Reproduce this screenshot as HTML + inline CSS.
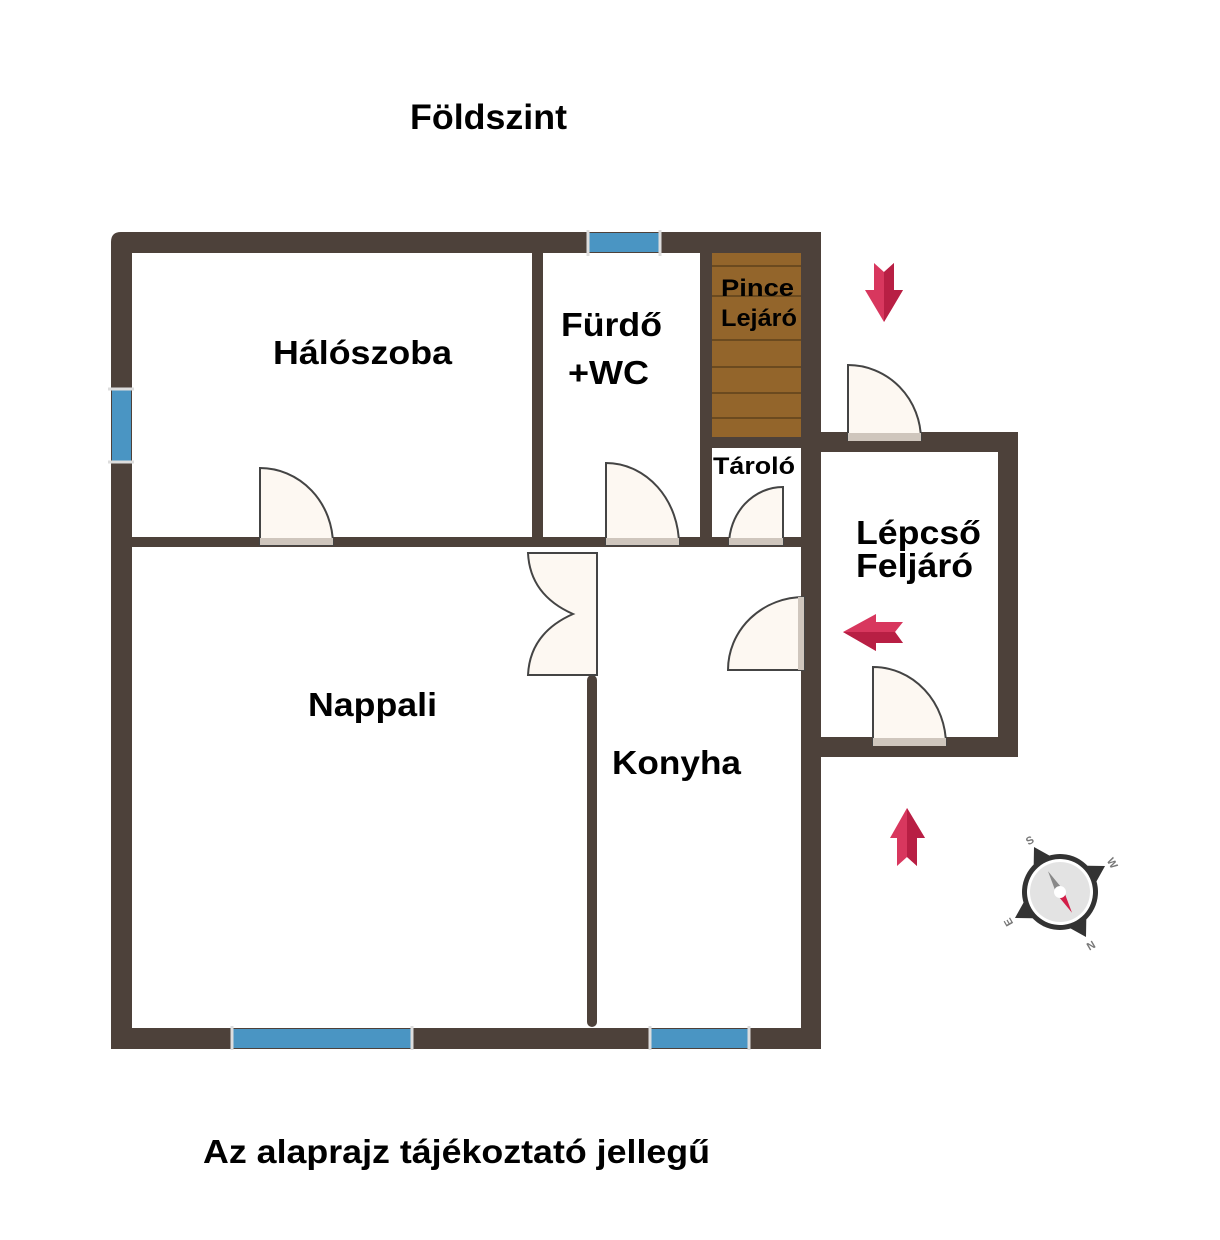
<!DOCTYPE html>
<html><head><meta charset="utf-8"><style>
html,body{margin:0;padding:0;background:#fff;}
svg{display:block;}
text{font-family:"Liberation Sans",Arial,sans-serif;font-weight:bold;fill:#000;}
</style></head><body>
<svg width="1220" height="1240" viewBox="0 0 1220 1240" xmlns="http://www.w3.org/2000/svg">
<text x="410" y="129" font-size="35" textLength="157" lengthAdjust="spacingAndGlyphs">Földszint</text>

<rect x="712" y="252" width="89" height="186" fill="#93652b"/>
<g stroke="#6b4a1f" stroke-width="2">
<line x1="712" y1="266" x2="801" y2="266"/>
<line x1="712" y1="296" x2="801" y2="296"/>
<line x1="712" y1="340" x2="801" y2="340"/>
<line x1="712" y1="367" x2="801" y2="367"/>
<line x1="712" y1="393" x2="801" y2="393"/>
<line x1="712" y1="418" x2="801" y2="418"/>
</g>

<g fill="#4d413a">
<path d="M111 242 Q111 232 121 232 L821 232 L821 1049 L111 1049 Z M132 253 L132 1028 L801 1028 L801 253 Z" fill-rule="evenodd"/>
<rect x="532" y="253" width="11" height="294"/>
<rect x="700" y="253" width="12" height="294"/>
<rect x="132" y="537" width="669" height="10"/>
<rect x="712" y="437" width="89" height="11"/>
<rect x="587" y="675" width="10" height="352" rx="5"/>
<path d="M821 432 L1018 432 L1018 757 L821 757 L821 737 L998 737 L998 452 L821 452 Z"/>
</g>

<g fill="#4a95c3">
<rect x="588" y="233" width="72" height="19"/>
<rect x="112" y="389" width="19" height="73"/>
<rect x="232" y="1029" width="180" height="19"/>
<rect x="650" y="1029" width="99" height="19"/>
</g>
<g stroke="#ddd" stroke-width="3">
<line x1="588" y1="230" x2="588" y2="256"/><line x1="660" y1="230" x2="660" y2="256"/>
<line x1="108" y1="389" x2="134" y2="389"/><line x1="108" y1="462" x2="134" y2="462"/>
<line x1="232" y1="1026" x2="232" y2="1050"/><line x1="412" y1="1026" x2="412" y2="1050"/>
<line x1="650" y1="1026" x2="650" y2="1050"/><line x1="749" y1="1026" x2="749" y2="1050"/>
</g>

<g fill="#fdf8f2" stroke="#444" stroke-width="2">
<path d="M260 545 L260 468 A73 77 0 0 1 333 545 Z"/>
<path d="M606 545 L606 463 A73 82 0 0 1 679 545 Z"/>
<path d="M783 545 L783 487 A54 58 0 0 0 729 545 Z"/>
<path d="M848 440 L848 365 A73 75 0 0 1 921 440 Z"/>
<path d="M873 745 L873 667 A73 78 0 0 1 946 745 Z"/>
<path d="M804 597 L804 670 L728 670 A76 73 0 0 1 804 597 Z"/>
<path d="M597 553 L528 553 Q530 595 573 614 Q530 633 528 675 L597 675 Z"/>
</g>
<g fill="#cfc6bd">
<rect x="260" y="538" width="73" height="7"/>
<rect x="606" y="538" width="73" height="7"/>
<rect x="729" y="538" width="54" height="7"/>
<rect x="848" y="433" width="73" height="8"/>
<rect x="873" y="738" width="73" height="8"/>
<rect x="798" y="597" width="6" height="73"/>
</g>

<text x="273" y="364" font-size="33" textLength="179" lengthAdjust="spacingAndGlyphs">Hálószoba</text>
<text x="561" y="336" font-size="33" textLength="101" lengthAdjust="spacingAndGlyphs">Fürdő</text>
<text x="568" y="384" font-size="33" textLength="81" lengthAdjust="spacingAndGlyphs">+WC</text>
<text x="721" y="296" font-size="24" textLength="73" lengthAdjust="spacingAndGlyphs">Pince</text>
<text x="721" y="326" font-size="24" textLength="76" lengthAdjust="spacingAndGlyphs">Lejáró</text>
<text x="713" y="474" font-size="24" textLength="82" lengthAdjust="spacingAndGlyphs">Tároló</text>
<text x="856" y="544" font-size="33" textLength="125" lengthAdjust="spacingAndGlyphs">Lépcső</text>
<text x="856" y="577" font-size="33" textLength="117" lengthAdjust="spacingAndGlyphs">Feljáró</text>
<text x="308" y="716" font-size="33" textLength="129" lengthAdjust="spacingAndGlyphs">Nappali</text>
<text x="612" y="774" font-size="33" textLength="129" lengthAdjust="spacingAndGlyphs">Konyha</text>
<text x="203" y="1163" font-size="33" textLength="507" lengthAdjust="spacingAndGlyphs">Az alaprajz tájékoztató jellegű</text>

<g>
<path d="M874 263 L884 272 L894 263 L894 290 L903 290 L884 322 L865 290 L874 290 Z" fill="#d8375e"/>
<path d="M884 272 L894 263 L894 290 L903 290 L884 322 Z" fill="#b81f44"/>
<path d="M903 622 L895 632 L903 643 L876 643 L876 651 L843 632 L876 614 L876 622 Z" fill="#d8375e"/>
<path d="M895 632 L903 643 L876 643 L876 651 L843 632 Z" fill="#b81f44"/>
<path d="M897 866 L907 857 L917 866 L917 838 L925 838 L907 808 L890 838 L897 838 Z" fill="#d8375e"/>
<path d="M907 857 L917 866 L917 838 L925 838 L907 808 Z" fill="#b81f44"/>
</g>

<g transform="translate(1060 892) rotate(-30)">
<path d="M0 -52 L9 -37 L37 -9 L52 0 L37 9 L9 37 L0 52 L-9 37 L-37 9 L-52 0 L-37 -9 L-9 -37 Z" fill="#333"/>
<circle r="38" fill="#333"/>
<circle r="33" fill="#fff"/>
<circle r="30" fill="#e3e3e3"/>
<path d="M-4 0 L0 -24 L4 0 Z" fill="#888"/>
<path d="M-4 0 L0 24 L4 0 Z" fill="#d21e48"/>
<circle r="6" fill="#fff"/>
<text x="-4" y="-56" font-size="11" style="fill:#777">S</text>
<text x="56" y="4" font-size="11" style="fill:#777" transform="rotate(90 60 0)">W</text>
<text x="-4" y="66" font-size="11" style="fill:#777" transform="rotate(180 0 62)">N</text>
<text x="-64" y="4" font-size="11" style="fill:#777" transform="rotate(-90 -60 0)">E</text>
</g>
</svg>
</body></html>
